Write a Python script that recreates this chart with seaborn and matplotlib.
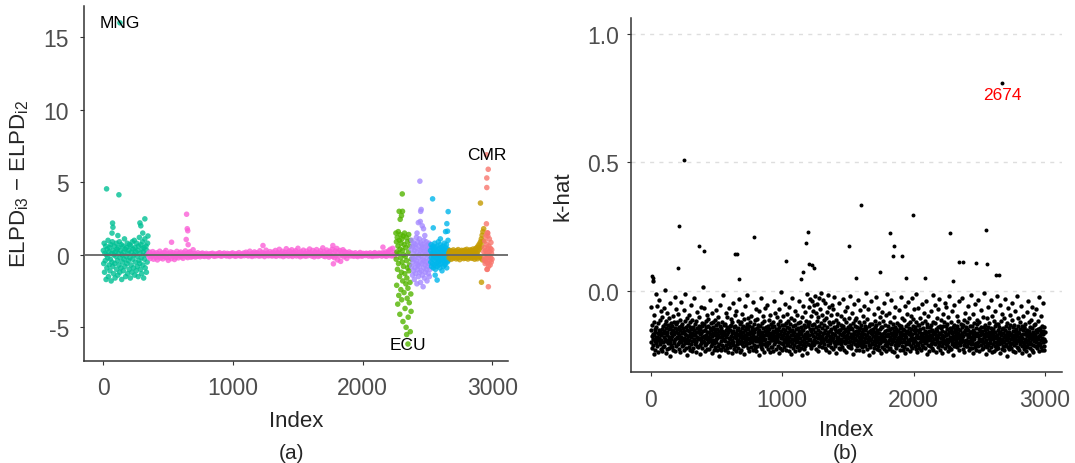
import numpy as np
import pandas as pd
import matplotlib
matplotlib.use("Agg")
import matplotlib.pyplot as plt
import seaborn as sns

# ---------------- panel (a): ELPD_i3 - ELPD_i2 by observation index
group_names = ["MNG", "G2", "ECU", "G4", "G5", "G6", "CMR"]
group_colors = ["#00C094", "#FB61D7", "#53B400", "#A58AFF", "#00B6EB", "#C49A00", "#F8766D"]
group_start = [1, 346, 2257, 2377, 2524, 2664, 2935]
group_end = [345, 2256, 2376, 2523, 2663, 2934, 2998]

teal = [0.3, -0.6, 0.8, -1.2, 0.1, -0.4, 0.6, -1.7, 0.0, -0.9, 0.4, -0.2, 1.0, -1.5, 0.2, -0.7, 0.5, -1.1, -0.3, 0.7,
        -1.8, 0.1, -0.5, 0.9, -0.8, 0.3, -1.3, 0.0, 0.6, -0.6, -1.6, 0.2, -0.1, 0.8, -1.0, 0.4, -0.4, -1.4, 0.5, 0.1,
        -0.7, 0.9, -1.2, -0.2, 0.3, -0.9, 0.7, -1.7, 0.0, -0.5, 0.6, -1.1, 0.2, -0.3, 1.1, -0.8, 0.4, -1.5, -0.1, 0.5,
        -0.6, 0.8, -1.3, 0.1, -0.4, 0.3, -1.0, 0.7, -0.2, -1.6, 0.6, -0.7, 0.2, -1.2, 0.9, -0.3, 0.4, -0.9, 0.0, 1.0,
        -1.4, 0.5, -0.5, 0.2, -1.1, 0.8, -0.1, -0.8, 0.3, -1.5, 0.6, -0.4, 1.2, -0.6, 0.1, -1.0, 0.7, -0.2, -1.3, 0.4,
        0.9, -0.7, 0.2, -1.6, 0.5, -0.3, 1.1, -0.9, 0.0, 0.6, -1.2, 0.3, -0.5, 0.8, 1.3]

# pink block, in hundredths
pink_c = [5, -12, 18, -25, 2, -8, 22, -30, 10, -4, -18, 14, -35, 6, -10, 25, -22, 0, 12, -28,
          -6, 16, -15, 30, -20, 4, -38, 9, -13, 20, -26, 1, 15, -9, -32, 8, -17, 24, -3, -21,
          11, -7, 19, -14, 3, -24, 13, -2, 27, -11, 6, -19, 16, -5, 21, -16, 7, -12, 35, -8,
          9, -15, 4, -10, 14, -6, 2, -13, 8, -4, 12, -9, 5, -11, 0, 10, -7, 3, -14, 6,
          -5, 8, -2, 11, -8, 3, -10, 6, 0, -6, 9, -3, 14, -7, 4, -9, 7, -1, 12, -4,
          2, -8, 10, -3, 6, -11, 1, 9, -5, 13, -2, -7, 5, -10, 8, 0, -4, 15, -6, 3,
          -9, 6, -1, 12, -6, 4, 18, -3, 9, -8, 2, 25, -5, 7, -11, 11, -2, 20, -7, 5,
          14, -4, 8, -9, 28, 1, -6, 16, -2, 10, -12, 6, 32, -3, 12, -7, 3, 22, -5, 9,
          -8, 19, 2, -5, 30, -10, 8, 15, -3, 38, -7, 11, -1, 24, -12, 5, 17, -6, 42, 0,
          13, -9, 26, 4, -4, 35, -11, 9, 18, -2, 28, -8, 6, 45, -5, 14, -13, 21, 3, -7,
          32, -3, 10, -10, 25, 7, -6, 16, 40, -1, 12, -9, 30, 2, -14, 19, -4, 36, 8, -11,
          15, -6, 28, -2, 9, 48, -8, 20, -12, 5, 33, -3, 14, -16, 24, 1, -7, 38, -10, 11,
          -20, 27, -5, 44, -35, 18, -9, 30, -45, 12, -2, 35, -14, 22, -6, 16, -25, 9, -3, 20,
          6, -8, 12, -4, 9, -10, 3, 14, -6, 1, -12, 8, -3, 16, -7, 5, -9, 10, -2, 7,
          -5, 11, -1, 8, -9, 4, 13, -6, 2, -11, 9, -4, 15, -8, 6, 0, -7, 12, -3, 10,
          4, -9, 14, -2, 8, -6, 20, -10, 11, 3, 28, -5, 38, 9, -8, 45, -3, 16, -7, 6]

green = [1.5, -0.3, 0.9, -2.1, 0.2, 1.2, -1.0, -3.4, 0.6, 1.6, -0.6, -2.8, 0.1, 1.0, -1.5, -4.1, 0.4, 1.4, -0.2, -2.4,
         0.8, -1.2, -3.1, 1.1, -0.5, 0.3, -1.8, -4.6, 1.3, -0.8, 0.0, -2.6, 0.7, 1.5, -1.3, -3.7, -0.1, 0.5, -2.0, -5.0,
         1.2, -0.4, -1.6, -3.0, 0.9, -0.9, -2.3, -4.3, 0.2, 1.4, -1.1, -3.3, -0.7, 0.6, -1.9, -5.3, 1.0, -2.7, -3.9, -0.3]

purple = [0.4, -0.8, 1.0, -0.2, -1.4, 0.6, -0.5, 0.1, -1.1, 0.8, -0.3, -1.7, 0.3, -0.9, 0.7, -0.1, -1.3, 0.5, -0.6, 1.2,
          -0.4, -2.0, 0.2, -1.0, 0.9, -0.7, -0.2, -1.5, 0.6, 0.0, -0.8, 1.1, -1.2, 0.3, -0.5, -1.9, 0.8, -0.1, -1.1, 0.4,
          -0.6, 0.7, -1.4, 0.1, -0.3, -2.2, 0.5, -0.9, 1.0, -0.4, -1.6, 0.2, -0.7, 0.6, -1.2, 0.0, -0.5, 0.9, -1.0, 0.3,
          -1.8, -0.2, 0.7, -0.8, 0.4, -1.3, 0.1, -0.6, 0.8, -1.5, -0.3, 0.5, -1.0, 0.2]

blue = [0.3, -0.5, 0.7, -0.2, -0.8, 0.1, 0.5, -0.6, 0.0, -0.3, 0.6, -0.9, 0.2, -0.1, 0.4, -0.7, 0.8, -0.4, 0.1, -1.0,
        0.5, -0.2, -0.6, 0.3, 0.0, -0.8, 0.6, -0.3, 0.2, -0.5, 0.9, -0.1, -0.7, 0.4, -0.4, 0.1, -0.9, 0.7, -0.2, 0.3,
        -0.6, 0.0, 0.5, -0.3, -1.1, 0.2, -0.5, 0.6, -0.1, -0.8, 0.4, 0.1, -0.4, 0.8, -0.7, -0.2, 0.3, -0.6, 0.5, 0.0,
        -0.3, 0.7, -0.9, 0.2, -0.5, 0.4, -0.1, 1.0, -0.4, 0.3]

# gold and red blocks, in hundredths
gold_c = [12, -20, 5, 30, -8, 18, -31, 2, 25, -14, 8, -25, 34, -3, 15, -18, 22, -10, 4, -28,
          28, -6, 11, -22, 36, -15, 0, 19, -33, 7, 24, -12, -2, 31, -19, 14, -7, 27, -26, 9,
          -16, 33, 3, -23, 20, -4, 38, -11, 16, -29, 6, 26, -17, 13, -1, 35, -21, 10, 29, -9,
          -24, 17, 40, -13, 1, 32, -30, 21, -5, 44, -18, 12, 50, -27, 23, 62, -8, 35, 75, -15,
          48, 90, -22, 110, 60, 135, -35, 160, 95, 180]
red_c = [20, -35, 50, -10, 95, -60, 30, -45, 130, 5, -25, 70, -100, 15, -55, 150,
         40, -15, -80, 60, -5, 110, -40, 25, -70, 45, -20, 85, -50, 10, 35, -30]

a_out_idx = [26, 121, 72, 75, 68, 113, 321, 283, 290, 305, 129,
             643, 648, 652, 640, 527, 655, 1232, 1771, 1775, 2157,
             2306, 2282, 2308, 2290, 2300, 2340, 2350,
             2442, 2452, 2448, 2430, 2445, 2460, 2470, 2480, 2420,
             2540, 2660, 2545, 2650, 2640, 2655, 2575, 2560, 2600,
             2909, 2917,
             2969, 2958, 2958, 2956, 2955, 2962, 2966, 2970, 2962]
a_out_val = [4.55, 4.14, 2.19, 1.9, 1.5, 1.33, 2.48, 2.2, 2.0, 1.5, 16.0,
             2.8, 1.8, 1.66, 1.06, 0.87, 0.7, 0.64, 0.64, -0.62, 0.53,
             4.2, 3.0, 3.0, 2.45, 2.7, -5.5, -6.15,
             5.08, 3.13, 3.0, 2.22, 2.3, 2.0, 1.8, 1.33, 1.5,
             3.86, 2.98, 1.86, 2.15, 1.6, 1.63, -1.74, -1.4, 1.1,
             3.57, -1.89,
             5.9, 5.3, 4.64, 6.9, 2.14, 1.52, 1.3, -2.2, -1.0]

a_label_text = ["MNG", "ECU", "CMR"]
a_label_idx = [129, 2350, 2956]
a_label_val = [16.0, -6.15, 6.9]

# ---------------- panel (b): Pareto k-hat, every second observation (thousandths)
khat_milli = [
    -152, -198, -61, -174, -221, -133, -187, 40, -166, -209, -118, -245, -171, -92, -193, -146, -228, -157, -12, -181,
    -203, -139, -176, -58, -214, -162, -191, -124, -236, -149, -183, -33, -168, -207, -111, -196, -159, -225, -77, -172,
    -188, -145, -231, -101, -164, -199, -137, -217, -66, -179, -154, -211, -128, -185, 5, -161, -240, -142, -194, -115,
    -169, -226, -84, -158, -202, -131, -189, -148, -219, -105, -177, -253, -141, -196, -47, -163, -208, -122, -184, -151,
    -215, -136, -173, -97, -229, -155, -192, -119, -167, -201, -22, -143, -186, -234, -127, -160, -212, -71, -178, -147,
    -182, -121, -205, -163, -88, -197, -139, -224, -170, -112, -187, -150, -238, -134, -199, -41, -176, -158, -213, -126,
    -161, -208, -144, -190, -73, -227, -153, -180, -117, -202, -166, -9, -195, -138, -219, -171, -104, -185, -247, -149,
    -200, -132, -175, -216, -156, -94, -188, -228, -140, -167, -120, -204, -53, -179, -145, -232, -162, -193, -110, -172,
    -139, -221, -165, -184, -26, -151, -206, -129, -192, -170, -237, -114, -158, -199, -81, -176, -143, -214, -160, -186,
    -217, -154, -99, -181, -135, -210, -168, -243, -147, -189, -62, -162, -201, -125, -178, -222, -137, -194, 18, -156,
    -175, -128, -196, -64, -209, -149, -183, -232, -116, -170, -204, -141, -187, -91, -160, -226, -134, -178, -198, -107,
    -191, -159, -223, -142, -180, -35, -167, -212, -123, -195, -150, -239, -174, -86, -205, -138, -163, -190, -118, -229,
    -146, -203, -171, -112, -218, -157, -186, -74, -199, -133, -164, -227, -148, -181, -100, -211, -169, -125, -250, -154,
    -206, -137, -179, -224, -55, -162, -194, -144, -230, -119, -173, -208, -153, -185, -14, -166, -215, -131, -188, -159,
    -170, -228, -126, -193, -151, -209, -83, -177, -140, -221, -165, -102, -198, -145, -235, -160, -182, -67, -204, -136,
    -185, -149, -216, -108, -174, -200, -131, -242, -163, -189, -120, -210, -45, -156, -197, -141, -225, -178, -93, -167,
    -213, -134, -182, -161, -231, -76, -195, -150, -172, -207, -115, -188, -144, -219, -168, -30, -201, -127, -179, -236,
    -155, -192, -118, -227, -166, -143, -204, -87, -183, -158, -214, -136, -175, -245, -109, -196, -152, -186, -59, -170,
    -198, -140, -173, -210, -129, -187, -16, -162, -222, -147, -180, -103, -203, -168, -135, -233, -157, -191, -121, -177,
    -164, -217, -95, -184, -151, -199, -138, -229, -171, -42, -190, -126, -208, -160, -181, -113, -220, -145, -195, -69,
    -176, -233, -142, -188, -107, -211, -159, -195, -130, -167, -249, -150, -183, -78, -205, -137, -172, -218, -25, -161,
    -194, -124, -182, -160, -226, -98, -175, -143, -207, -169, -116, -191, -237, -154, -64, -186, -139, -213, -165, -200,
    -148, -209, -171, -52, -196, -134, -223, -158, -180, -111, -202, -147, -170, -238, -92, -189, -163, -128, -216, -177,
    -215, -141, -190, -166, -119, -231, -153, -38, -184, -206, -135, -173, -85, -198, -157, -224, -145, -179, -102, -192,
    -162, -187, -127, -212, -150, -174, -241, -139, -197, -70, -168, -220, -115, -183, -155, -4, -203, -132, -176, -228,
    -181, -146, -205, -97, -170, -193, -131, -218, -164, -186, -48, -152, -227, -123, -199, -178, -140, -210, -89, -167,
    -203, -160, -117, -189, -232, -144, -177, -62, -214, -156, -195, -129, -172, -244, -106, -185, -150, -200, -27, -163,
    -137, -222, -169, -191, -112, -208, -158, -180, -133, -234, -75, -174, -198, -147, -216, -165, -94, -187, -124, -211,
    -179, -143, -230, -155, -40, -196, -166, -121, -204, -183, -138, -219, -161, -100, -192, -247, -149, -175, -209, -58,
    -152, -200, -130, -185, -224, -168, -81, -213, -141, -176, -197, -114, -239, -159, -11, -182, -136, -206, -171, -126,
    -190, -118, -62, -171, -209, -145, -30, -186, -154, -221, -98, -165, -40, -198, -132, -175, -75, -210, -148, -188,
    -128, -204, -55, -160, -192, -17, -177, -140, -225, -86, -167, -115, -196, -48, -181, -152, -233, -102, -170, -25,
    -214, -137, -180, -69, -158, -201, -122, -190, -8, -173, -143, -218, -91, -164, -197, -35, -184, -131, -207, -110,
    -161, -186, -44, -219, -150, -178, -104, -230, -166, -79, -195, -139, -172, -13, -208, -157, -189, -121, -236, -60,
    -183, -127, -202, -155, -93, -174, -216, -146, -52, -191, -162, -226, -119, -180, -70, -199, -141, -168, -22, -205,
    -147, -212, -169, -113, -193, -156, -240, -135, -182, -88, -203, -160, -177, -125, -220, -149, -46, -188, -165, -197,
    -224, -151, -185, -130, -206, -96, -172, -142, -215, -163, -31, -194, -134, -179, -228, -108, -160, -201, -145, -76,
    -175, -198, -120, -187, -235, -153, -170, -63, -211, -139, -183, -158, -105, -196, -146, -218, -176, -19, -192, -133,
    -209, -165, -142, -222, -84, -180, -148, -199, -124, -173, -243, -157, -189, -50, -167, -205, -136, -181, -112, -230,
    -156, -191, -106, -171, -214, -138, -195, -162, -33, -203, -150, -177, -227, -118, -184, -72, -208, -144, -168, -198,
    -187, -131, -218, -159, -176, -97, -204, -146, -233, -168, -121, -193, -56, -180, -152, -211, -137, -172, -6, -199,
    -143, -225, -170, -109, -196, -160, -184, -71, -210, -135, -178, -247, -154, -190, -126, -215, -163, -39, -185, -149,
    -206, -166, -128, -201, -145, -237, -175, -89, -192, -157, -221, -116, -183, -140, -208, -24, -170, -197, -133, -226,
    -160, -189, -151, -214, -67, -178, -200, -123, -229, -164, -186, -102, -203, -147, -173, -241, -138, -194, -80, -168,
    -217, -140, -181, -195, -114, -161, -223, -47, -176, -208, -132, -188, -155, -232, -169, -93, -199, -150, -212, -12,
    -174, -202, -136, -167, -226, -150, -83, -190, -145, -219, -177, -119, -205, -161, -186, -36, -231, -142, -171, -197,
    -128, -193, -164, -238, -101, -182, -156, -210, -139, -175, -61, -199, -147, -220, -168, -124, -189, -250, -153, -181,
    -209, -153, -178, -130, -203, -74, -167, -227, -144, -191, -159, -21, -183, -136, -214, -172, -105, -196, -148, -230,
    -165, -218, -113, -186, -149, -197, -173, -239, -57, -162, -206, -134, -179, -90, -201, -155, -224, -127, -188, -43,
    -195, -142, -207, -168, -120, -233, -158, -184, -98, -174, -212, -146, -190, -28, -166, -222, -137, -180, -202, -109,
    -151, -186, -70, -213, -162, -139, -194, -225, -118, -177, -9, -200, -150, -171, -236, -131, -183, -64, -208, -157,
    -220, -133, -179, -198, -145, -103, -187, -161, -229, -175, -125, -210, -48, -169, -192, -143, -217, -180, -86, -163,
    -176, -201, -156, -115, -222, -168, -185, -37, -199, -141, -173, -244, -129, -188, -160, -208, -96, -153, -231, -182,
    -138, -212, -170, -189, -77, -155, -204, -132, -178, -219, -149, -193, -15, -165, -227, -121, -186, -159, -200, -54,
    -205, -160, -124, -183, -235, -147, -172, -199, -106, -190, -155, -216, -68, -176, -141, -209, -167, -31, -196, -135,
    -163, -227, -181, -143, -198, -112, -214, -169, -153, -240, -88, -185, -136, -203, -174, -120, -192, -158, -221, -45,
    -192, -137, -205, -60, -171, -210, -148, -184, -127, -232, -166, -197, -101, -157, -215, -19, -179, -144, -190, -226,
    -150, -180, -118, -223, -164, -195, -76, -207, -139, -173, -248, -160, -186, -131, -211, -52, -175, -200, -145, -168,
    -211, -155, -190, -134, -217, -96, -176, -145, -201, -162, -114, -228, -183, -40, -169, -194, -152, -209, -126, -181,
    -172, -199, -141, -187, -27, -161, -224, -130, -193, -175, -208, -110, -157, -236, -149, -83, -196, -167, -214, -138,
    -188, -146, -213, -165, -120, -203, -58, -179, -152, -230, -171, -194, -104, -160, -219, -137, -182, -13, -206, -159,
    -134, -221, -176, -193, -150, -239, -87, -168, -205, -125, -184, -157, -216, -49, -173, -200, -142, -228, -165, -110,
    -207, -161, -129, -198, -174, -35, -211, -147, -186, -233, -118, -170, -195, -153, -72, -209, -166, -138, -190, -224,
    -156, -185, -202, -99, -167, -222, -140, -179, -8, -196, -151, -213, -131, -175, -245, -162, -188, -106, -200, -146,
    -218, -139, -171, -208, -61, -183, -158, -227, -122, -191, -166, -201, -143, -36, -177, -215, -154, -182, -95, -237,
    -167, -204, -148, -186, -232, -114, -173, -196, -135, -212, -78, -160, -223, -181, -128, -199, -20, -170, -209, -150,
    -195, -127, -220, -163, -180, -141, -206, -55, -189, -157, -240, -171, -117, -202, -146, -185, -226, -89, -164, -198,
    -142, -211, -178, -103, -194, -230, -152, -169, -214, -31, -181, -137, -205, -160, -251, -124, -190, -172, -67, -217,
    -183, -159, -197, -144, -225, -172, -93, -208, -133, -186, -165, -219, -112, -176, -44, -203, -155, -234, -180, -138,
    -210, -170, -130, -192, -154, -238, -183, -76, -162, -200, -145, -215, -174, -19, -189, -136, -222, -158, -104, -195,
    -161, -229, -187, -118, -176, -206, -148, -193, -57, -169, -241, -135, -182, -213, -152, -98, -199, -166, -224, -140,
    -202, -144, -168, -211, -127, -185, -233, -160, -197, -82, -175, -150, -218, -39, -191, -163, -207, -121, -180, -246,
    -153, -196, -220, -139, -173, -110, -204, -166, -186, -229, -143, -62, -210, -177, -157, -236, -132, -193, -171, -90,
    -190, -165, -127, -214, -182, -150, -199, -70, -221, -158, -179, -208, -116, -187, -148, -232, -24, -174, -203, -142,
    -171, -205, -149, -188, -96, -217, -162, -136, -227, -181, -154, -196, -47, -168, -212, -140, -184, -230, -159, -195,
]

b_out_idx = [253, 217, 209, 369, 404, 640, 655, 788, 673, 1031,
             1181, 1194, 1204, 1225, 1240, 1155, 1140, 1511, 1602, 1993,
             1818, 1853, 1840, 1911, 1742, 2275, 2553, 2559, 2475, 2345,
             2373, 2624, 2652, 2674, 1945, 2090, 1560, 7, 15, 2300]
b_out_val = [0.508, 0.253, 0.089, 0.177, 0.155, 0.145, 0.145, 0.21, 0.048, 0.119,
             0.188, 0.229, 0.107, 0.102, 0.09, 0.074, 0.048, 0.177, 0.335, 0.297,
             0.225, 0.177, 0.136, 0.136, 0.074, 0.225, 0.238, 0.105, 0.109, 0.112,
             0.112, 0.062, 0.062, 0.808, 0.05, 0.05, 0.05, 0.06, 0.05, 0.04]
b_label_text = "2674"

# ---------------- build tables
block_vals = [np.array(teal), np.array(pink_c) / 100, np.array(green), np.array(purple),
              np.array(blue), np.array(gold_c) / 100, np.array(red_c) / 100]
parts = []
for name, start, end, vals in zip(group_names, group_start, group_end, block_vals):
    parts.append(pd.DataFrame({"index": np.linspace(start, end, len(vals)),
                               "diff": vals, "country": name}))
out_grp = [group_names[np.searchsorted(group_start, i, side="right") - 1] for i in a_out_idx]
parts.append(pd.DataFrame({"index": a_out_idx, "diff": a_out_val, "country": out_grp}))
df_a = pd.concat(parts, ignore_index=True)

khat = np.array(khat_milli) / 1000
df_b_cloud = pd.DataFrame({"index": np.linspace(1, 2999, len(khat)), "khat": khat})
df_b_out = pd.DataFrame({"index": b_out_idx, "khat": b_out_val})

# ---------------- style
sns.set_theme(style="ticks")
plt.rcParams["font.family"] = ["Liberation Sans", "DejaVu Sans"]
plt.rcParams["mathtext.fontset"] = "custom"
plt.rcParams["mathtext.rm"] = "Liberation Sans"
plt.rcParams["axes.unicode_minus"] = False

fig = plt.figure(figsize=(10.75, 4.64), dpi=100)
ax_a = fig.add_axes([0.0784, 0.2205, 0.3941, 0.7644])
ax_b = fig.add_axes([0.5867, 0.1955, 0.4012, 0.7629])

# panel (a)
sns.scatterplot(data=df_a, x="index", y="diff", hue="country",
                palette=dict(zip(group_names, group_colors)), s=16,
                linewidth=0, alpha=0.8, legend=False, ax=ax_a, zorder=2)
ax_a.axhline(0, color="#666666", lw=1.3, zorder=3)
for t, xi, yi in zip(a_label_text, a_label_idx, a_label_val):
    ax_a.text(xi, yi, t, ha="center", va="center", fontsize=12.5, color="black", zorder=4)
ax_a.set_xlim(-146, 3121)
ax_a.set_ylim(-7.3, 17.16)
ax_a.set_xticks([0, 1000, 2000, 3000])
ax_a.set_yticks([-5, 0, 5, 10, 15])
ax_a.set_xlabel("Index", fontsize=16)
ax_a.set_ylabel(r"ELPD$_{\mathrm{i3}}$ − ELPD$_{\mathrm{i2}}$", fontsize=16)
ax_a.xaxis.set_label_coords(0.5, -0.139)
ax_a.yaxis.set_label_coords(-0.126, 0.5)
ax_a.tick_params(axis="both", labelsize=16.5, labelcolor="#4D4D4D", color="#333333",
                 length=3, width=0.8, pad=8)

# panel (b)
for g in [0.0, 0.5, 1.0]:
    ax_b.axhline(g, color="#DEDEDE", lw=1.0, dashes=(2.9, 3.8), zorder=0)
sns.scatterplot(data=df_b_cloud, x="index", y="khat", color="black", s=10,
                linewidth=0, ax=ax_b, zorder=2)
sns.scatterplot(data=df_b_out, x="index", y="khat", color="black", s=8,
                linewidth=0, ax=ax_b, zorder=2)
ax_b.annotate(b_label_text, (b_out_idx[33], b_out_val[33]), xytext=(0, -8),
              textcoords="offset points", ha="center", va="center",
              fontsize=12.5, color="red")
ax_b.set_xlim(-153, 3129)
ax_b.set_ylim(-0.315, 1.06)
ax_b.set_xticks([0, 1000, 2000, 3000])
ax_b.set_yticks([0.0, 0.5, 1.0])
ax_b.set_yticklabels(["0.0", "0.5", "1.0"])
ax_b.set_xlabel("Index", fontsize=16)
ax_b.set_ylabel("k-hat", fontsize=16)
ax_b.xaxis.set_label_coords(0.5, -0.132)
ax_b.yaxis.set_label_coords(-0.1315, 0.5)
ax_b.tick_params(axis="both", labelsize=16.5, labelcolor="#4D4D4D", color="#333333",
                 length=3, width=0.8, pad=8)
ax_b.tick_params(axis="y", pad=5.5)

for ax in (ax_a, ax_b):
    sns.despine(ax=ax)
    for side in ("left", "bottom"):
        ax.spines[side].set_color("#333333")
        ax.spines[side].set_linewidth(1.1)

fig.text(292 / 1075, 0.0116, "(a)", ha="center", va="baseline", fontsize=15)
fig.text(845 / 1075, 0.0116, "(b)", ha="center", va="baseline", fontsize=15)

fig.savefig("out.png", dpi=100)
